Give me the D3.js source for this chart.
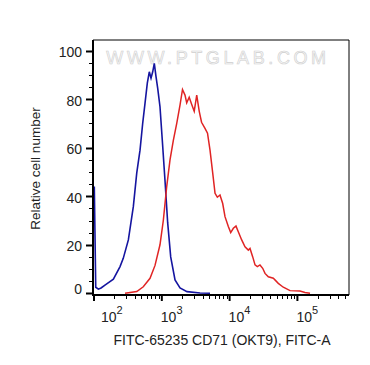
<!DOCTYPE html>
<html><head><meta charset="utf-8">
<script src="https://cdnjs.cloudflare.com/ajax/libs/d3/7.8.5/d3.min.js"></script>
<style>
body{margin:0;background:#fff;}
svg{display:block;font-family:"Liberation Sans",Arial,sans-serif;}
</style></head>
<body><svg id="c" width="370" height="365"></svg>
<script>
// ---- data ----
const blueX = [101,106,116,127,145,193,242,270,321,380,427,477,522,565,611,654,693,734,775,821,870,940,1016,1113,1221,1352,1566,1855,2353,3660,5140];
const blueY = [44,2.5,1.7,2.2,3.4,5.8,11,14.4,22,35.7,49.6,59,70,78.3,86.6,91.3,88.7,91.3,94.8,89.3,84.5,76.9,63.2,46.7,29,15,5.5,2.2,0.7,0.1,0];
const redX = [287,427,533,670,794,940,1052,1181,1321,1479,1660,1855,2019,2198,2329,2535,2761,3006,3273,3565,3855,4335,4721,5140,5636,6095,6592,7211,7907,8551,9572,10380,11350,12420,13430,15070,16870,18880,20000,21930,23710,25640,28050,30760,33270,37240,44160,52240,61940,77800,109200,129400,153500];
const redY = [0,0.7,2.7,6.2,11.5,20,30,44,55,63,70,77.6,84,81.7,78.5,80.8,77.8,75,81.7,75,70.5,68,66,59,49.5,41.2,39.6,40.5,37,31.6,27.5,25,26.8,27.7,25.4,22,19.2,17.8,18.5,15,11.7,11,11.7,10.3,8.2,6.8,6.2,4.1,2.5,1.1,0.9,0.3,0];
const xMajor = [1e2,1e3,1e4,1e5];
const xMajorExp = ["2","3","4","5"];
const yTicks = [0,20,40,60,80,100];
const xTitle = "FITC-65235 CD71 (OKT9), FITC-A";
const yTitle = "Relative cell number";
const watermark = "WWW.PTGLAB.COM";

// ---- layout ----
const L=93, R=349, T=40, B=295;
const svg = d3.select("#c");
const x = d3.scaleLog().domain([96.6, 576800]).range([L, R]);
const y = d3.scaleLinear().domain([-0.7, 104.4]).range([B, T]);

// watermark
svg.append("text").attr("x",218).attr("y",63.5).attr("text-anchor","middle")
  .attr("font-size",18).attr("letter-spacing",3.6)
  .attr("fill","#f8f8f8").attr("stroke","#cfcfcf").attr("stroke-width",0.6)
  .text(watermark);

// curves
const line = d3.line().x(d=>x(d[0])).y(d=>y(d[1]));
svg.append("path").datum(blueX.map((v,i)=>[v,blueY[i]]))
  .attr("d",line).attr("fill","none").attr("stroke","#1515a0").attr("stroke-width",1.6);
svg.append("path").datum(redX.map((v,i)=>[v,redY[i]]))
  .attr("d",line).attr("fill","none").attr("stroke","#e02424").attr("stroke-width",1.5);

// frame
svg.append("line").attr("x1",L).attr("x2",R).attr("y1",T).attr("y2",T).attr("stroke","#000").attr("stroke-width",1);
svg.append("line").attr("x1",R).attr("x2",R).attr("y1",T).attr("y2",B).attr("stroke","#000").attr("stroke-width",1);
svg.append("line").attr("x1",L).attr("x2",L).attr("y1",T).attr("y2",B+1).attr("stroke","#000").attr("stroke-width",2);
svg.append("line").attr("x1",L-1).attr("x2",R).attr("y1",B).attr("y2",B).attr("stroke","#000").attr("stroke-width",2);

// y ticks
const yMinor = d3.range(0,101,5);
svg.selectAll(".ym").data(yMinor).enter().append("line")
  .attr("x1",d=> d%20===0 ? L-7 : L-4).attr("x2",L)
  .attr("y1",d=>Math.round(y(d))+0.5).attr("y2",d=>Math.round(y(d))+0.5)
  .attr("stroke","#000").attr("stroke-width",d=>d%20===0?2:1);
svg.selectAll(".yl").data(yTicks).enter().append("text")
  .attr("x",82).attr("y",d=>Math.min(y(d)+6.5, B-1)).attr("text-anchor","end")
  .attr("font-size",14).attr("fill","#222").text(d=>d);

// x ticks
const xMin = [];
for (let e=2;e<=5;e++) for (let k=2;k<=9;k++){ const v=k*Math.pow(10,e); if (v<=x.domain()[1]) xMin.push(v); }
svg.selectAll(".xm").data(xMin).enter().append("line")
  .attr("x1",d=>Math.round(x(d))+0.5).attr("x2",d=>Math.round(x(d))+0.5)
  .attr("y1",B).attr("y2",B+4).attr("stroke","#000").attr("stroke-width",1);
svg.selectAll(".xM").data(xMajor).enter().append("line")
  .attr("x1",d=>x(d)).attr("x2",d=>x(d))
  .attr("y1",B).attr("y2",B+6).attr("stroke","#000").attr("stroke-width",2);
const xl = svg.selectAll(".xl").data(xMajor).enter().append("text")
  .attr("x",d=>Math.max(x(d)-1,101)).attr("y",322)
  .attr("font-size",14).attr("fill","#222");
xl.append("tspan").text("10");
xl.append("tspan").attr("font-size",11).attr("dy",-8).text((d,i)=>xMajorExp[i]);

// titles
svg.append("text").attr("x",222).attr("y",345).attr("text-anchor","middle")
  .attr("font-size",14).attr("fill","#222").text(xTitle);
svg.append("text").attr("transform","translate(40,168.5) rotate(-90)")
  .attr("text-anchor","middle").attr("font-size",13.5).attr("fill","#222").text(yTitle);
</script></body></html>
